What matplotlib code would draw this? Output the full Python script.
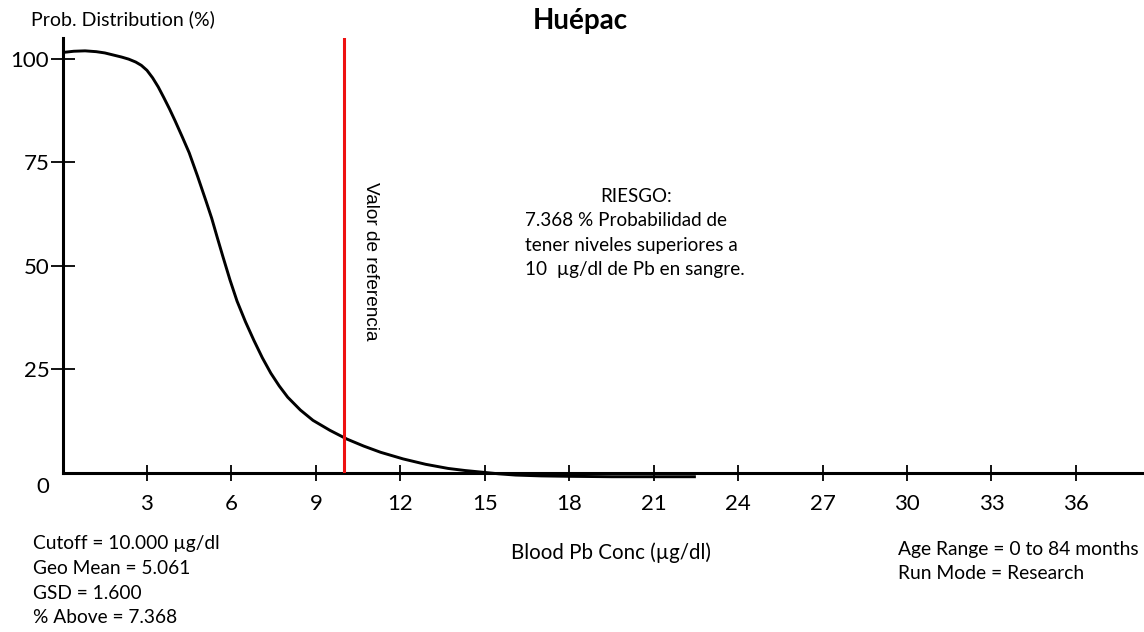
import matplotlib

matplotlib.use("Agg")
import matplotlib.pyplot as plt

W, H = 1144, 632

# exceedance curve: blood Pb concentration (ug/dl) vs probability (%)
bp_conc = [0.0, 0.4, 0.8, 1.2, 1.5, 1.8, 2.1, 2.35, 2.6, 2.8, 3.0, 3.2, 3.4,
           3.6, 3.8, 4.0, 4.25, 4.5, 4.8, 5.1, 5.3, 5.5, 5.7, 5.95, 6.2, 6.5,
           6.8, 7.1, 7.4, 7.7, 8.0, 8.45, 8.9, 9.5, 10.1, 10.7, 11.3, 12.1,
           12.9, 13.7, 14.3, 14.9, 15.5, 16.1, 17.0, 18.0, 19.5, 20.9, 22.5]
prob_pct = [101.5, 101.8, 101.9, 101.7, 101.4, 100.9, 100.4, 99.9, 99.2,
            98.4, 97.2, 95.4, 93.2, 90.6, 87.9, 85.0, 81.2, 77.3, 71.6, 65.6,
            61.5, 56.8, 52.2, 46.6, 41.5, 36.5, 32.0, 27.8, 24.1, 21.0, 18.3,
            15.2, 12.7, 10.3, 8.2, 6.5, 5.0, 3.4, 2.1, 1.1, 0.6, 0.2, -0.2,
            -0.5, -0.7, -0.8, -0.9, -0.9, -0.9]

x_ticks = [3, 6, 9, 12, 15, 18, 21, 24, 27, 30, 33, 36]
y_ticks = [25, 50, 75, 100]

site = "Huépac"
cutoff = 10.0
geo_mean = 5.061
gsd = 1.600
pct_above = 7.368
age_range = "0 to 84 months"
run_mode = "Research"

plt.rcParams["font.family"] = ["Lato", "DejaVu Sans"]


def fx(px):
    return px / W


def fy(py):
    return 1 - py / H


fig = plt.figure(figsize=(W / 100, H / 100), dpi=100)
ax = fig.add_axes([fx(62.5), fy(473), (W - 62.5) / W, (473 - 38) / H])
ax.set_xlim(0, 38.42)
ax.set_ylim(0, 105)

for s in ("top", "right"):
    ax.spines[s].set_visible(False)
for s in ("left", "bottom"):
    ax.spines[s].set_linewidth(2.2)
    ax.spines[s].set_capstyle("projecting")

ax.plot(bp_conc, prob_pct, color="black", lw=2.1, clip_on=False,
        solid_capstyle="butt", solid_joinstyle="round", zorder=3)
ax.axvline(cutoff, color="#ee1111", lw=2.2, zorder=4)

ax.set_xticks(x_ticks)
ax.set_yticks(y_ticks)
ax.tick_params(axis="x", direction="inout", length=12, width=1.3, pad=9,
               labelsize=16)
ax.tick_params(axis="y", direction="inout", length=17, width=1.3, pad=1,
               labelsize=16)
ax.text(-0.69, -3.4, "0", fontsize=16, ha="center", va="center", clip_on=False)

ax.text(cutoff + 0.95, 51, "Valor de referencia", rotation=270,
        family="Liberation Sans", fontsize=13.7, ha="center", va="center")

# risk annotation
fig.text(fx(636), fy(196), "RIESGO:", fontsize=13.5, ha="center", va="center")
risk_lines = [f"{pct_above:.3f} % Probabilidad de",
              "tener niveles superiores a",
              f"{cutoff:.0f}  µg/dl de Pb en sangre."]
for i, line in enumerate(risk_lines):
    fig.text(fx(525), fy(221 + 24 * i), line, fontsize=13.6, ha="left",
             va="center")

fig.text(fx(580), fy(21), site, fontsize=20, weight="bold", ha="center",
         va="center")
fig.text(fx(31), fy(19), "Prob. Distribution (%)", fontsize=14, ha="left",
         va="center")
fig.text(fx(611), fy(553), "Blood Pb Conc (µg/dl)", fontsize=14.8,
         ha="center", va="center")

stats = [f"Cutoff = {cutoff:.3f} µg/dl",
         f"Geo Mean = {geo_mean:.3f}",
         f"GSD = {gsd:.3f}",
         f"% Above = {pct_above:.3f}"]
for i, line in enumerate(stats):
    fig.text(fx(33), fy(544 + 24.6 * i), line, fontsize=13.8, ha="left",
             va="center")

run_info = [f"Age Range = {age_range}", f"Run Mode = {run_mode}"]
for i, line in enumerate(run_info):
    fig.text(fx(898), fy(549 + 24.5 * i), line, fontsize=13.9, ha="left",
             va="center")

fig.savefig("out.png", dpi=100, facecolor="white")
plt.close(fig)
